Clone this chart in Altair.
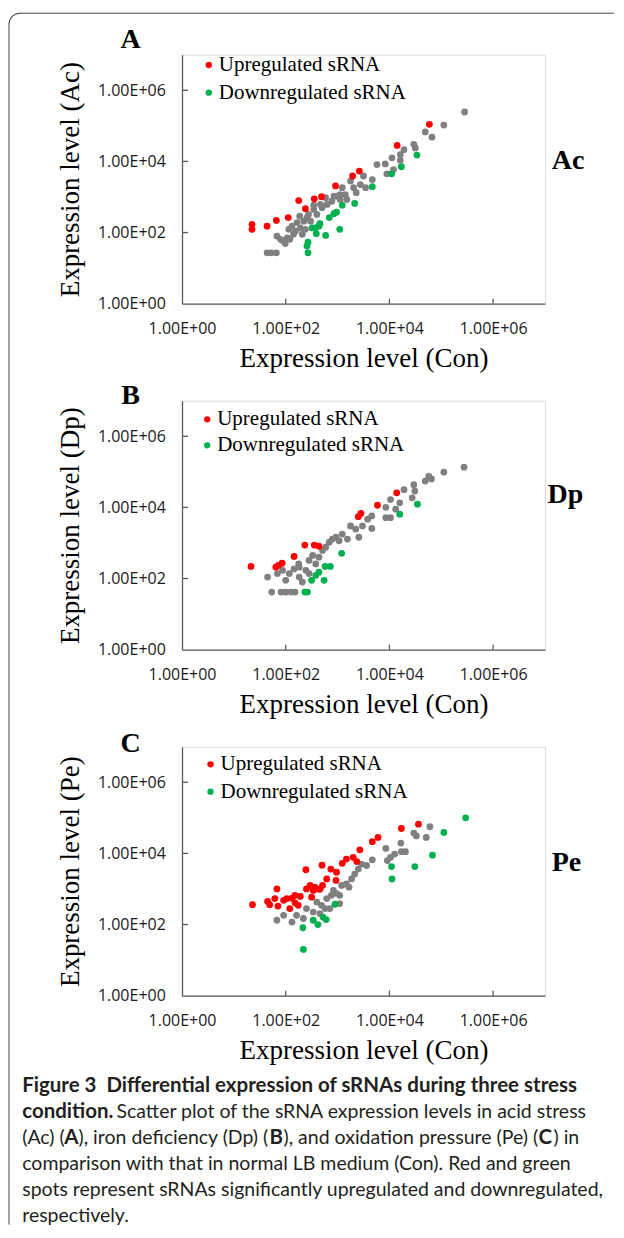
import altair as alt
import pandas as pd

# ---------------- data (expression levels) ----------------
# Panel A : acid stress (Ac) vs control (Con)
A_NS_CON = [43.7, 52.5, 66.1, 67.6, 79.4, 85.1, 107, 132, 155, 186, 224, 302, 347, 398, 501, 631, 776, 977,
            1120, 1230, 1410, 1780, 2040, 2290, 2750, 3160, 3470, 4680, 5750, 8320, 8910, 11200, 12000, 16200,
            19100, 16200, 29500, 31600, 49000, 66100, 112000, 282000, 115, 141, 191, 257, 166, 97.7, 120, 209,
            240, 275, 347, 468, 589, 851, 1120, 1510]
A_NS_AC = [26.9, 26.9, 26.9, 79.4, 64.6, 60.3, 70.8, 151, 110, 288, 209, 209, 447, 324, 501, 617, 759, 1050,
           851, 1820, 1170, 2820, 1820, 1320, 2240, 3890, 1820, 3090, 8130, 8510, 4470, 12600, 5890, 15500,
           21400, 10700, 30200, 24000, 67600, 47900, 105000, 245000, 123, 89.1, 135, 263, 191, 49.0, 64.6, 89.1,
           123, 324, 589, 617, 955, 1050, 1170, 851]
A_UP_CON = [22.4, 22.4, 43.7, 66, 112, 178, 240, 355, 490, 912, 1950, 2630, 14100, 58900]
A_UP_AC = [170, 123, 151, 219, 263, 794, 468, 891, 1020, 2040, 3890, 5370, 28200, 110000]
A_DN_CON = [257, 269, 269, 324, 372, 389, 457, 437, 589, 692, 851, 955, 1230, 1100, 2140, 4680, 11000, 17000, 33900]
A_DN_AC = [41.7, 53.7, 26.9, 135, 135, 93.3, 178, 151, 83.2, 263, 339, 372, 589, 123, 661, 1950, 4470, 7080, 15100]

# Panel B : iron deficiency (Dp) vs control (Con)
B_NS_CON = [44.7, 53.7, 69.2, 87.1, 100, 81.3, 100, 126, 151, 117, 145, 178, 182, 209, 245, 282, 331, 380, 437,
            513, 589, 692, 794, 933, 1070, 1230, 1550, 1780, 2240, 2570, 3020, 3800, 4570, 4570, 8510, 10500,
            10500, 8510, 13200, 15800, 19100, 27500, 29500, 30900, 49000, 57500, 64600, 112000, 275000, 282, 182]
B_NS_DP = [110, 41.7, 138, 170, 89.1, 41.7, 41.7, 41.7, 41.7, 138, 186, 257, 110, 79.4, 170, 324, 447, 257, 398,
           617, 759, 1050, 1290, 1450, 1150, 1780, 1290, 3020, 2450, 1450, 3020, 4680, 5750, 2570, 10000, 16600,
           5130, 5130, 8910, 13500, 31600, 18600, 43700, 28800, 55000, 74100, 63100, 97700, 135000, 138, 209]
B_UP_CON = [21.4, 64.6, 72.4, 85.1, 145, 234, 355, 437, 2510, 2820, 5890, 13800]
B_UP_DP = [219, 209, 234, 269, 417, 871, 871, 813, 5500, 6760, 11500, 25700]
B_DN_CON = [234, 263, 316, 380, 437, 550, 575, 724, 1200, 15800, 34700]
B_DN_DP = [41.7, 41.7, 89.1, 123, 151, 89.1, 219, 219, 513, 6460, 12300]

# Panel C : oxidation pressure (Pe) vs control (Con)
C_NS_CON = [67.6, 91.2, 132, 162, 219, 251, 339, 398, 490, 575, 617, 759, 832, 955, 1100, 1200, 1480, 1660,
            1860, 2140, 2510, 2880, 3630, 4680, 8510, 9120, 10500, 12600, 16600, 17000, 20400, 29500, 33100,
            51300, 60300, 1100, 708, 457]
C_NS_PE = [132, 182, 117, 182, 148, 282, 224, 427, 347, 282, 537, 661, 912, 741, 661, 1260, 1380, 1120, 1910,
           2630, 3630, 5010, 4570, 6610, 13800, 6310, 7760, 9550, 19500, 11200, 11200, 37200, 30900, 28200,
           56200, 389, 282, 204]
C_UP_CON = [22.9, 44.7, 49.0, 67.6, 61.7, 70.8, 91.2, 120, 132, 151, 174, 191, 245, 251, 295, 316, 363, 457,
            501, 513, 617, 741, 955, 933, 1230, 1480, 2000, 2340, 2690, 4680, 6030, 17000, 36300, 105, 151,
            398, 339]
C_UP_PE = [363, 447, 363, 1000, 537, 331, 479, 282, 550, 407, 347, 617, 3470, 1000, 1260, 589, 1120, 977, 4680,
           1260, 1910, 3630, 2950, 1740, 5250, 6920, 7760, 5890, 12600, 21400, 28200, 50100, 66100, 537, 661,
           1000, 912]
C_DN_CON = [219, 214, 339, 417, 525, 603, 891, 11000, 11200, 30900, 67600, 112000, 295000]
C_DN_PE = [20.0, 81.3, 132, 100, 162, 138, 372, 4270, 1910, 4270, 8910, 38900, 100000]

TICK_VALUES = [1, 100, 10000, 1000000]
TICK_LABELS = ["1.00E+00", "1.00E+02", "1.00E+04", "1.00E+06"]
LEGEND_LABELS = ["Upregulated sRNA", "Downregulated sRNA"]
STATUS = ["ns", "up", "down"]
COLORS = ["#808080", "#ff0000", "#00b050"]
X_TITLE = "Expression level (Con)"

CAPTION = [
    # (text, bold, line, page-x)
    ("Figure 3\u00a0 Differential expression of sRNAs during three stress", True, 0, 21.7),
    ("condition.", True, 1, 21.7),
    ("Scatter plot of the sRNA expression levels in acid stress", False, 1, 116),
    ("(Ac) (", False, 2, 21.7),
    ("A", True, 2, 63.7),
    ("), iron deficiency (Dp) (", False, 2, 78),
    ("B", True, 2, 269),
    ("), and oxidation pressure (Pe) (", False, 2, 283),
    ("C", True, 2, 538),
    (") in", False, 2, 553),
    ("comparison with that in normal LB medium (Con). Red and green", False, 3, 21.7),
    ("spots represent sRNAs significantly upregulated and downregulated,", False, 4, 21.7),
    ("respectively.", False, 5, 21.7),
]

# ---------------- style ----------------
W, H = 363, 249
ORIGIN_X = 181.5
AXIS_COLOR = "#595959"
SERIF = "Liberation Serif"
SANS = "Open Sans"
CAP_FONT = "Lato"
FRAME = "#444444"

label_expr = " : ".join(f"datum.value == {v} ? '{l}'" for v, l in zip(TICK_VALUES, TICK_LABELS)) + " : ''"
xscale = alt.Scale(type="log", domain=[1, 1e7], nice=False)
yscale = alt.Scale(type="log", domain=[1, 1e7], nice=False)


def make_df(nx, ny, ux, uy, dx, dy):
    rows = [(a, b, "ns") for a, b in zip(nx, ny)]
    rows += [(a, b, "up") for a, b in zip(ux, uy)]
    rows += [(a, b, "down") for a, b in zip(dx, dy)]
    return pd.DataFrame(rows, columns=["con", "level", "status"])


def txt(text, x, y, font, size, bold=False, align="center", color="black"):
    return alt.Chart(pd.DataFrame({"t": [text]})).mark_text(
        font=font, fontSize=size, fontWeight="bold" if bold else "normal",
        align=align, baseline="middle", color=color
    ).encode(x=alt.value(x), y=alt.value(y), text="t:N")


def panel(df, letter, cond, ytitle, letter_y, cond_xy, leg_x, leg_y, extra=()):
    X = alt.X("con:Q", scale=xscale, axis=alt.Axis(
        values=TICK_VALUES, labelExpr=label_expr, ticks=False, grid=False,
        domainColor=AXIS_COLOR, domainWidth=1.3, labelFont=SANS, labelFontSize=16,
        labelColor="#1a1a1a", labelPadding=25, labelBaseline="middle", labelFlush=False,
        labelOverlap=False, title=X_TITLE, titleFont=SERIF, titleFontSize=27,
        titleFontWeight="normal", titleColor="black", titleX=W / 2, titleY=55,
        titleBaseline="middle"))
    Y = alt.Y("level:Q", scale=yscale, axis=alt.Axis(
        values=TICK_VALUES, labelExpr=label_expr, ticks=False, grid=False,
        domainColor=AXIS_COLOR, domainWidth=1.3, labelFont=SANS, labelFontSize=16,
        labelColor="#1a1a1a", labelPadding=16.7, labelFlush=False, labelOverlap=False,
        title=ytitle, titleFont=SERIF, titleFontSize=27, titleFontWeight="normal",
        titleColor="black", titleX=-112, titleY=H / 2, titleBaseline="middle"))
    pts = alt.Chart(df).mark_circle(size=46, opacity=1).encode(
        x=X, y=Y,
        color=alt.Color("status:N", scale=alt.Scale(domain=STATUS, range=COLORS), legend=None))
    xt = alt.Chart(pd.DataFrame({"con": TICK_VALUES[1:]})).mark_rule(
        color=AXIS_COLOR, strokeWidth=1.3).encode(x=X, y=alt.value(H), y2=alt.value(H - 5))
    yt = alt.Chart(pd.DataFrame({"level": TICK_VALUES[1:]})).mark_rule(
        color=AXIS_COLOR, strokeWidth=1.3).encode(y=Y, x=alt.value(0), x2=alt.value(6))
    layers = [xt, yt, pts]
    for i, (lab, col) in enumerate(zip(LEGEND_LABELS, COLORS[1:])):
        layers.append(alt.Chart(pd.DataFrame({"t": [lab]})).mark_circle(size=40, opacity=1, color=col)
                      .encode(x=alt.value(leg_x), y=alt.value(leg_y[i])))
        layers.append(txt(lab, leg_x + 10, leg_y[i], SERIF, 21, align="left"))
    layers.append(txt(letter, -51.5, letter_y, SERIF, 28, bold=True))
    layers.append(txt(cond, cond_xy[0], cond_xy[1], SERIF, 28, bold=True))
    layers += list(extra)
    return alt.layer(*layers).properties(width=W, height=H)


# frame (rounded box around the figure), drawn relative to panel A
one = pd.DataFrame({"k": [0]})
frame_layers = [
    alt.Chart(one).mark_rule(color=FRAME, strokeWidth=1).encode(
        x=alt.value(-162), x2=alt.value(432), y=alt.value(-41.5)),
    alt.Chart(one).mark_rule(color=FRAME, strokeWidth=1).encode(
        x=alt.value(-173), y=alt.value(-30.5), y2=alt.value(1170)),
    alt.Chart(one).mark_arc(color=FRAME, innerRadius=10.5, outerRadius=11.5,
                            theta=4.7124, theta2=6.2832).encode(x=alt.value(-162), y=alt.value(-30.5)),
]

cap_layers = []
for text, bold, line, px in CAPTION:
    cap_layers.append(txt(text, px - ORIGIN_X, 339.3 + 26 * line, CAP_FONT, 20.5 if bold else 19.5,
                          bold=bold, align="left", color="#231f20"))

pA = panel(make_df(A_NS_CON, A_NS_AC, A_UP_CON, A_UP_AC, A_DN_CON, A_DN_AC),
           "A", "Ac", "Expression level (Ac)", -14.7, (386, 106.3), 26.8, (10.3, 38), frame_layers)
pB = panel(make_df(B_NS_CON, B_NS_DP, B_UP_CON, B_UP_DP, B_DN_CON, B_DN_DP),
           "B", "Dp", "Expression level (Dp)", -4.7, (383.5, 94.3), 25.2, (18.6, 44.6))
pC = panel(make_df(C_NS_CON, C_NS_PE, C_UP_CON, C_UP_PE, C_DN_CON, C_DN_PE),
           "C", "Pe", "Expression level (Pe)", -2.7, (384.5, 116.3), 28.5, (17.6, 45), cap_layers)

chart = alt.vconcat(pA, pB, pC, spacing=97, bounds="flush").properties(
    padding={"left": 0, "top": 3.7, "right": 0, "bottom": 0}
).configure_view(stroke=None).configure(background="white")

chart.save("out.html", embed_options={"renderer": "svg", "actions": False})
